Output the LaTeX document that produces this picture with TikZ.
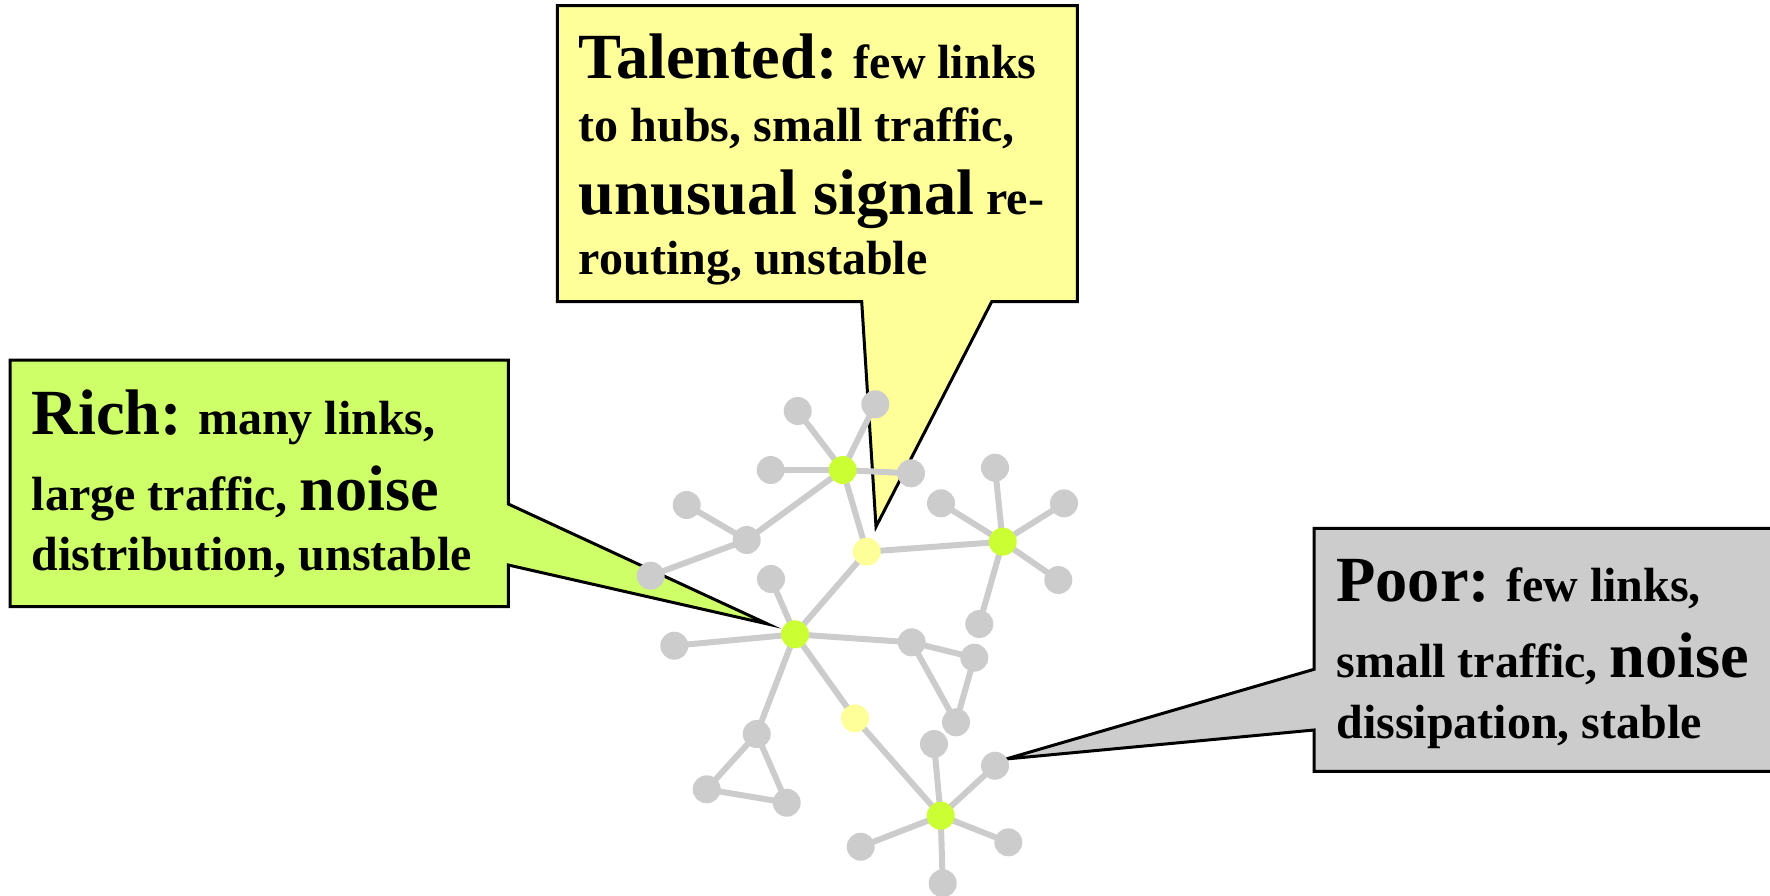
\documentclass[tikz,border=0pt]{standalone}
\usepackage{fontspec}
\setmainfont{Liberation Serif}
\pgfdeclarelayer{boxes}
\pgfdeclarelayer{links}
\pgfsetlayers{boxes,links,main}
\definecolor{linkgray}{RGB}{204,204,204}
\definecolor{hubgreen}{RGB}{204,255,51}
\definecolor{relayyellow}{RGB}{255,255,153}
\definecolor{richgreen}{RGB}{206,255,104}
\definecolor{talentyellow}{RGB}{255,255,153}
\definecolor{poorgray}{RGB}{204,204,204}
\newcommand\bigword[1]{{\fontsize{32.2}{36}\selectfont #1}}
\tikzset{
  vertex/.style={circle, inner sep=0pt, minimum size=14pt, draw=none},
  leaf/.style={vertex, fill=linkgray},
  hub/.style={vertex, fill=hubgreen},
  relay/.style={vertex, fill=relayyellow},
  link/.style={draw=linkgray, line width=3pt},
  balloon/.style={draw=black, line width=1.5pt, line join=miter},
  label/.style={anchor=base west, inner sep=0pt, font=\fontsize{24}{28}\selectfont\bfseries}
}
\begin{document}
\begin{tikzpicture}[x=0.5pt,y=-0.5pt]
\useasboundingbox (0,0) rectangle (1770,895);
\clip (0,0) rectangle (1770,895);

% ---------- network ----------
\node[hub]   (h1) at (842.7,470) {};
\node[hub]   (h2) at (1002.7,541.7) {};
\node[hub]   (h3) at (795,634.3) {};
\node[hub]   (h4) at (940.7,815.7) {};
\node[relay] (y1) at (866.7,551.7) {};
\node[relay] (y2) at (855,718.3) {};

\node[leaf] (a) at (797.7,411) {};
\node[leaf] (b) at (875.3,404.3) {};
\node[leaf] (c) at (770.7,470) {};
\node[leaf] (d) at (911,473.3) {};
\node[leaf] (e) at (686.7,505) {};
\node[leaf] (f) at (746.7,540) {};
\node[leaf] (g) at (650.7,575.7) {};

\node[leaf] (n1) at (995,467.7) {};
\node[leaf] (n2) at (941,503.3) {};
\node[leaf] (n3) at (1064,503.3) {};
\node[leaf] (n4) at (1058.3,580) {};
\node[leaf] (n5) at (979.3,624) {};

\node[leaf] (m1) at (771,579) {};
\node[leaf] (m2) at (674.3,645.7) {};
\node[leaf] (m3) at (911.7,642.3) {};
\node[leaf] (m4) at (756.7,734) {};
\node[leaf] (t1) at (974.3,657.7) {};
\node[leaf] (t2) at (956,722.3) {};
\node[leaf] (l1) at (706.7,789.3) {};
\node[leaf] (l2) at (786.7,802.7) {};

\node[leaf] (p1) at (934,744) {};
\node[leaf] (p2) at (995,765.7) {};
\node[leaf] (p3) at (860.7,846.7) {};
\node[leaf] (p4) at (1008.3,842.3) {};
\node[leaf] (p5) at (942.7,883.3) {};

\begin{pgfonlayer}{links}
  \foreach \u/\v in {h1/a, h1/b, h1/c, h1/d, h1/f, h1/y1, f/e, f/g,
                     y1/h2, h2/n1, h2/n2, h2/n3, h2/n4, h2/n5,
                     y1/h3, h3/m1, h3/m2, h3/m3, h3/m4, h3/y2,
                     m3/t1, m3/t2, t1/t2, m4/l1, m4/l2, l1/l2,
                     y2/h4, h4/p1, h4/p2, h4/p3, h4/p4, h4/p5}
    \draw[link] (\u.center) -- (\v.center);
\end{pgfonlayer}

% ---------- callouts ----------
\coordinate (tip talent) at (876,526.7);
\coordinate (tip rich)   at (767.7,624);
\coordinate (tip poor)   at (1006,759);

\begin{pgfonlayer}{boxes}
  \draw[balloon, fill=talentyellow]
    (557.3,5.7) -- (1077.3,5.7) -- (1077.3,301.7) -- (991.7,301.7)
    -- (tip talent) -- (861.7,301.7) -- (557.3,301.7) -- cycle;
  \draw[balloon, fill=richgreen]
    (10,360) -- (508.3,360) -- (508.3,504) -- (tip rich)
    -- (508.3,565) -- (508.3,606.7) -- (10,606.7) -- cycle;
  \draw[balloon, fill=poorgray]
    (1314,528.3) -- (1800,528.3) -- (1800,771.3) -- (1314,771.3)
    -- (1314,730) -- (tip poor) -- (1314,669.3) -- cycle;
\end{pgfonlayer}

% ---------- texts ----------
\node[label] (tal1) at (578.5,78)  {\bigword{Talented:} few links};
\node[label] (tal2) at (578.5,141) {to hubs, small traffic,};
\node[label] (tal3) at (578.5,214.5) {\bigword{unusual signal} re-};
\node[label] (tal4) at (578.5,274) {routing, unstable};

\node[label] (rich1) at (31.5,434.6) {\bigword{Rich:} many links,};
\node[label] (rich2) at (31.5,510)   {large traffic, \bigword{noise}};
\node[label] (rich3) at (31.5,570)   {distribution, unstable};

\node[label] (poor1) at (1336,601)   {\bigword{Poor:} few links,};
\node[label] (poor2) at (1336,677)   {small traffic, \bigword{noise}};
\node[label] (poor3) at (1336,738.5) {dissipation, stable};
\end{tikzpicture}
\end{document}
